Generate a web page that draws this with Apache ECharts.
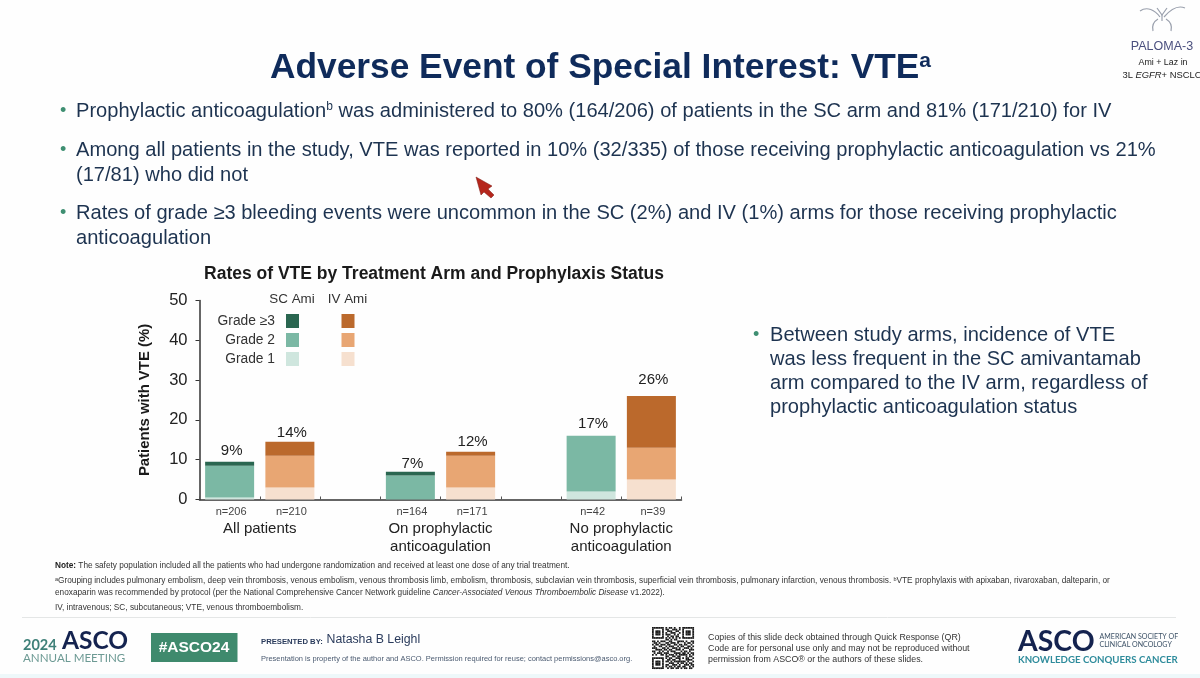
<!DOCTYPE html>
<html>
<head>
<meta charset="utf-8">
<script src="https://cdn.jsdelivr.net/npm/echarts@6/dist/echarts.min.js"></script>
<style>html,body{margin:0;padding:0;background:#fff}#c{width:1200px;height:678px}</style>
</head>
<body>
<div id="c"></div>
<script>
// ---- data ----
const slotLabels = ['n=206','n=210','','n=164','n=171','','n=42','n=39'];
const groupLabels = {1:'All patients',4:'On prophylactic\nanticoagulation',7:'No prophylactic\nanticoagulation'};
const scGrade1 = [0.5, 0, 2];
const scGrade2 = [8, 6, 14];
const scGrade3 = [1, 1, 0];
const ivGrade1 = [3, 3, 5];
const ivGrade2 = [8, 8, 8];
const ivGrade3 = [3.5, 1, 13];
const totalLabels = ['9%','14%','','7%','12%','','17%','26%'];
const totalLabelGaps = [3,1,0,0,2,0,4,9];
const yTicks = {min:0, max:50, interval:10};

const FONT = '"Liberation Sans", Arial, sans-serif';
const NAVY = '#0f2b5b', BODY = '#1d3350', GREEN = '#3f8f72';

function toSlots(values, offset){
  const out = new Array(slotLabels.length).fill(null);
  values.forEach((v,i)=>{ out[i*3+offset] = v; });
  return out;
}
function bar(name, values, offset, color){
  return {name, type:'bar', stack:'vte', barWidth:49, xAxisIndex:0, yAxisIndex:0,
    data:toSlots(values, offset), itemStyle:{color}, emphasis:{disabled:true}};
}
const series = [
  bar('SC Grade 1', scGrade1, 0, '#cfe6de'),
  bar('SC Grade 2', scGrade2, 0, '#7bb8a4'),
  bar('SC Grade ≥3', scGrade3, 0, '#2a6650'),
  bar('IV Grade 1', ivGrade1, 1, '#f6e0cf'),
  bar('IV Grade 2', ivGrade2, 1, '#e8a673'),
  bar('IV Grade ≥3', ivGrade3, 1, '#bb692c'),
  {name:'Total', type:'bar', stack:'vte', barWidth:49, xAxisIndex:0, yAxisIndex:0,
   data:slotLabels.map((l,i)=>l?{value:0,label:{distance:totalLabelGaps[i]}}:null), itemStyle:{color:'transparent'},
   label:{show:true, position:'top', offset:[2,0], color:'#222', fontFamily:FONT, fontSize:15,
     formatter:p=>totalLabels[p.dataIndex]}}
];

function legendCol(prefix, right, showText){
  return {orient:'vertical', right, top:314, padding:0, align:'right', itemWidth:13, itemHeight:14, itemGap:5,
    selectedMode:false, icon:'rect',
    data:['Grade ≥3','Grade 2','Grade 1'].map(g=>prefix+' '+g),
    formatter:n=>showText?n.replace(prefix+' ',''):'',
    textStyle:{color:'#333', fontFamily:FONT, fontSize:13.8, padding:[0,6,0,0]}};
}

function T(text,x,y,size,fill,opt){
  opt = opt||{};
  return {type:'text', x, y, silent:true, z:5, style:{
    text, fill, font:(opt.weight||'normal')+' '+size+'px '+(opt.family||FONT),
    textAlign:opt.align||'left', textVerticalAlign:'middle'}};
}
function RT(text,x,y,size,fill,rich,opt){
  opt = opt||{};
  return {type:'text', x, y, silent:true, z:5, style:{text, fill, fontFamily:opt.family||FONT, fontSize:size,
    fontWeight:opt.weight||'normal', align:opt.align||'left', verticalAlign:'middle', rich}};
}
const BS = 20.1, FN = 8.26;
const bulletRich = {s:{fontSize:12, fill:BODY, fontFamily:FONT, verticalAlign:'top', padding:[0,0,6,0]},
                    b:{fontSize:BS, fill:BODY, fontFamily:FONT}};
const bodyLines = [
  {b:1,x:76,y:111,t:'{b|Prophylactic anticoagulation}{s|b}{b| was administered to 80% (164/206) of patients in the SC arm and 81% (171/210) for IV}'},
  {b:1,x:76,y:150,t:'{b|Among all patients in the study, VTE was reported in 10% (32/335) of those receiving prophylactic anticoagulation vs 21%}'},
  {b:0,x:76,y:175,t:'{b|(17/81) who did not}'},
  {b:1,x:76,y:213,t:'{b|Rates of grade ≥3 bleeding events were uncommon in the SC (2%) and IV (1%) arms for those receiving prophylactic}'},
  {b:0,x:76,y:238,t:'{b|anticoagulation}'},
  {b:1,x:770,y:335,t:'{b|Between study arms, incidence of VTE}'},
  {b:0,x:770,y:359,t:'{b|was less frequent in the SC amivantamab}'},
  {b:0,x:770,y:383,t:'{b|arm compared to the IV arm, regardless of}'},
  {b:0,x:770,y:407,t:'{b|prophylactic anticoagulation status}'}
];
const QR = [
'1111111010110100101111111',
'1000001011001110101000001',
'1011101001110011001011101',
'1011101010011100101011101',
'1011101011100101001011101',
'1000001001011011001000001',
'1111111010101010101111111',
'0000000011010110000000000',
'1101011100110001111010011',
'0110100011011101000101101',
'1011011101100110110110010',
'0100110010111001011001101',
'1110001101001110100111010',
'0011110110110011101000111',
'1100101001011100010110100',
'0101110111000111101101011',
'1010011010111010111110101',
'0000000011001101100010110',
'1111111010110011101011001',
'1000001001101100100011110',
'1011101011010111111101001',
'1011101000111001011010110',
'1011101011001110100111011',
'1000001010110101101100101',
'1111111001011011010110110'];
const qrEls = [];
QR.forEach((row,r)=>[...row].forEach((c,i)=>{ if(c==='1') qrEls.push({type:'rect',silent:true,
  shape:{x:652+i*1.68,y:627+r*1.68,width:1.75,height:1.75},style:{fill:'#1a1a1a'}}); }));

const logoStroke = {fill:'none',stroke:'#9aa0ad',lineWidth:1.2};
function curve(x1,y1,cpx1,cpy1,cpx2,cpy2,x2,y2){
  return {type:'bezierCurve',silent:true,z:4,shape:{x1,y1,cpx1,cpy1,cpx2,cpy2,x2,y2},style:logoStroke};
}

const graphics = [
  {type:'rect',silent:true,z:0,shape:{x:0,y:674,width:1200,height:4},style:{fill:'#eef8fa'}},
  RT('{t|Adverse Event of Special Interest: VTE}{u|a}',270,68,35.3,NAVY,{
    t:{fontSize:35.3,fontWeight:'bold',fill:NAVY,fontFamily:FONT},
    u:{fontSize:21,fontWeight:'bold',fill:NAVY,fontFamily:FONT,padding:[0,0,14,0]}}),
  ...bodyLines.map(l=>RT(l.t,l.x,l.y,BS,BODY,bulletRich)),
  ...bodyLines.filter(l=>l.b).map(l=>T('•',l.x-(l.x===76?16:17),l.y,18,GREEN)),
  // mouse pointer
  {type:'polygon',silent:true,z:6,shape:{points:[[476,177],[492,186],[488,189],[494,195],[491,198],[484,192],[481,195]]},
    style:{fill:'#b5261c',stroke:'#7d1a14',lineWidth:.5}},
  // PALOMA mark
  {type:'polyline',silent:true,z:4,shape:{points:[[1157,8],[1162,15],[1167,8]]},style:logoStroke},
  {type:'line',silent:true,z:4,shape:{x1:1162,y1:15,x2:1162,y2:21},style:logoStroke},
  curve(1140,11,1147,6,1155,10,1160,17),
  curve(1185,8,1178,5,1170,10,1164,17),
  curve(1158,19,1153,22,1152,27,1153,31),
  curve(1166,19,1171,22,1172,27,1171,31),
  T('PALOMA-3',1162,47,12.5,'#4a4f7e',{align:'center'}),
  T('Ami + Laz in',1163,62.5,8.9,'#222',{align:'center'}),
  RT('{a|3L }{i|EGFR}{a|+ NSCLC}',1162,75,9.4,'#222',{a:{fontSize:9.4,fill:'#222',fontFamily:FONT},i:{fontSize:9.4,fill:'#222',fontStyle:'italic',fontFamily:FONT}},{align:'center'}),
  // chart heading + legend headings
  T('Rates of VTE by Treatment Arm and Prophylaxis Status',434,274,17.5,'#1a1a1a',{weight:'bold',align:'center'}),
  T('SC Ami',292,299,13.4,'#333',{align:'center'}),
  T('IV Ami',347.5,299,13.4,'#333',{align:'center'}),
  // footnotes
  RT('{b|Note:}{a| The safety population included all the patients who had undergone randomization and received at least one dose of any trial treatment.}',55,565.5,FN,'#333',
    {a:{fontSize:FN,fill:'#333',fontFamily:FONT},b:{fontSize:FN,fill:'#222',fontWeight:'bold',fontFamily:FONT}}),
  RT('{s|a}{a|Grouping includes pulmonary embolism, deep vein thrombosis, venous embolism, venous thrombosis limb, embolism, thrombosis, subclavian vein thrombosis, superficial vein thrombosis, pulmonary infarction, venous thrombosis. }{s|b}{a|VTE prophylaxis with apixaban, rivaroxaban, dalteparin, or}',55,581,FN,'#333',
    {a:{fontSize:FN,fill:'#333',fontFamily:FONT},s:{fontSize:5.5,fill:'#333',fontFamily:FONT,padding:[0,0,3,0]}}),
  RT('{a|enoxaparin was recommended by protocol (per the National Comprehensive Cancer Network guideline }{i|Cancer-Associated Venous Thromboembolic Disease}{a| v1.2022).}',55,593,FN,'#333',
    {a:{fontSize:FN,fill:'#333',fontFamily:FONT},i:{fontSize:FN,fill:'#333',fontStyle:'italic',fontFamily:FONT}}),
  T('IV, intravenous; SC, subcutaneous; VTE, venous thromboembolism.',55,608,FN,'#333'),
  {type:'line',silent:true,shape:{x1:22,y1:617.5,x2:1176,y2:617.5},style:{stroke:'#e4e6e6',lineWidth:1}},
  // footer left
  T('2024',23,645,14.5,'#3f8079',{family:'Lato, sans-serif',weight:'bold'}),
  T('ASCO',62,641.5,24.5,'#14234f',{family:'Lato, sans-serif',weight:'bold'}),
  T('ANNUAL MEETING',23,658,11.6,'#6d9a94',{family:'Lato, sans-serif'}),
  {type:'rect',silent:true,shape:{x:151,y:633,width:86.5,height:29},style:{fill:'#3f8a6d'}},
  T('#ASCO24',194,648,15.5,'#fff',{align:'center',weight:'bold'}),
  T('PRESENTED BY:',261,641.5,7.7,'#2a3b5c',{weight:'bold'}),
  T('Natasha B Leighl',326.5,640,12.3,'#2a3b5c'),
  T('Presentation is property of the author and ASCO. Permission required for reuse; contact permissions@asco.org.',261,659,7.48,'#4a5a70'),
  // QR
  ...qrEls,
  T('Copies of this slide deck obtained through Quick Response (QR)',708,638,8.83,'#333'),
  T('Code are for personal use only and may not be reproduced without',708,649,8.83,'#333'),
  T('permission from ASCO® or the authors of these slides.',708,659.5,8.83,'#333'),
  // ASCO logo
  T('ASCO',1018,641.5,28.4,'#14234f',{family:'Lato, sans-serif',weight:'bold'}),
  T('AMERICAN SOCIETY OF',1099.5,636.7,7.05,'#3c5166',{family:'Lato, sans-serif'}),
  T('CLINICAL ONCOLOGY',1099.5,645,7.05,'#3c5166',{family:'Lato, sans-serif'}),
  T('KNOWLEDGE CONQUERS CANCER',1018,659.5,9.7,'#2f8c9c',{family:'Lato, sans-serif',weight:'bold'})
];

const chart = echarts.init(document.getElementById('c'), null, {renderer:'canvas'});
chart.setOption({
  animation:false,
  backgroundColor:'#fefefe',
  tooltip:{show:false},
  grid:{left:199.5, top:300.5, width:482, height:199},
  legend:[legendCol('SC',901,true), legendCol('IV',845.5,false)],
  xAxis:[
    {type:'category', data:slotLabels, position:'bottom',
     axisLine:{lineStyle:{color:'#333',width:1.5}},
     axisTick:{show:true,length:3,inside:true,alignWithLabel:false,lineStyle:{color:'#555'}},
     axisLabel:{interval:0,margin:7,color:'#444',fontFamily:FONT,fontSize:11,padding:[0,0,0,3]}},
    {type:'value', min:0, max:slotLabels.length, interval:1, position:'bottom',
     axisLine:{show:false}, axisTick:{show:false}, splitLine:{show:false},
     axisLabel:{margin:20.5,color:'#222',fontFamily:FONT,fontSize:15,lineHeight:18,align:'center',
       verticalAlign:'top',formatter:v=>groupLabels[v]||''}}
  ],
  yAxis:{type:'value', min:yTicks.min, max:yTicks.max, interval:yTicks.interval,
    name:'Patients with VTE (%)', nameLocation:'middle', nameGap:47, nameRotate:90,
    nameTextStyle:{fontFamily:FONT,fontSize:14.9,fontWeight:'bold',color:'#1a1a1a'},
    axisLine:{show:true,lineStyle:{color:'#333',width:1.5}},
    axisTick:{show:true,length:4,lineStyle:{color:'#333'}},
    axisLabel:{margin:12,color:'#222',fontFamily:FONT,fontSize:16.5},
    splitLine:{show:false}},
  series,
  graphic:graphics
});
</script>
</body>
</html>
